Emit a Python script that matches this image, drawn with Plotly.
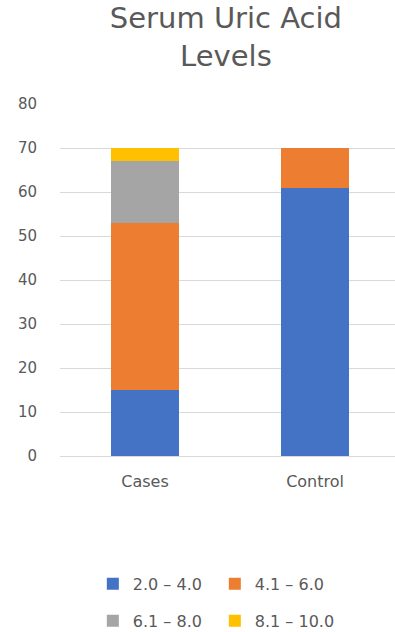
import plotly.graph_objects as go

categories = ["Cases", "Control"]
series_names = ["2.0 – 4.0", "4.1 – 6.0", "6.1 – 8.0", "8.1 – 10.0"]
v_20_40 = [15, 61]
v_41_60 = [38, 9]
v_61_80 = [14, 0]
v_81_100 = [3, 0]
tick_vals = [0, 10, 20, 30, 40, 50, 60, 70, 80]

colors = ["#4472C4", "#ED7D31", "#A5A5A5", "#FFC000"]
values = [v_20_40, v_41_60, v_61_80, v_81_100]
legends = ["legend", "legend", "legend2", "legend2"]
text_color = "#595959"
font_family = "DejaVu Sans, sans-serif"

fig = go.Figure()
for name, vals, col, lg in zip(series_names, values, colors, legends):
    fig.add_trace(go.Bar(
        x=categories, y=vals, name=name,
        marker=dict(color=col, line=dict(width=0)),
        legend=lg,
    ))

legend_common = dict(orientation="h", x=0.098, xanchor="left", yanchor="top",
                     entrywidth=77, entrywidthmode="pixels",
                     font=dict(size=16, color=text_color), traceorder="normal")

fig.update_layout(
    width=395, height=632,
    barmode="stack", bargap=0.6,
    paper_bgcolor="white", plot_bgcolor="white",
    margin=dict(l=60, r=0, t=104, b=176, autoexpand=False),
    title=dict(text="Serum Uric Acid<br>Levels", xref="container", x=0.572, xanchor="center",
               yref="container", y=0.955, yanchor="top",
               font=dict(family=font_family, size=29, color=text_color)),
    font=dict(family=font_family, color=text_color, size=15),
    xaxis=dict(showline=False, ticks="", range=[-0.5, 1.47], ticklabelstandoff=14,
               tickfont=dict(size=16, color=text_color)),
    yaxis=dict(range=[0, 80], tickvals=tick_vals, showgrid=True, gridcolor="#D9D9D9",
               gridwidth=1, zeroline=True, zerolinecolor="#D9D9D9", zerolinewidth=1,
               ticklabelstandoff=22, tickfont=dict(size=15, color=text_color)),
    legend=dict(legend_common, y=-0.315),
    legend2=dict(legend_common, y=-0.42),
    showlegend=True,
)

fig.write_html("out.html")
